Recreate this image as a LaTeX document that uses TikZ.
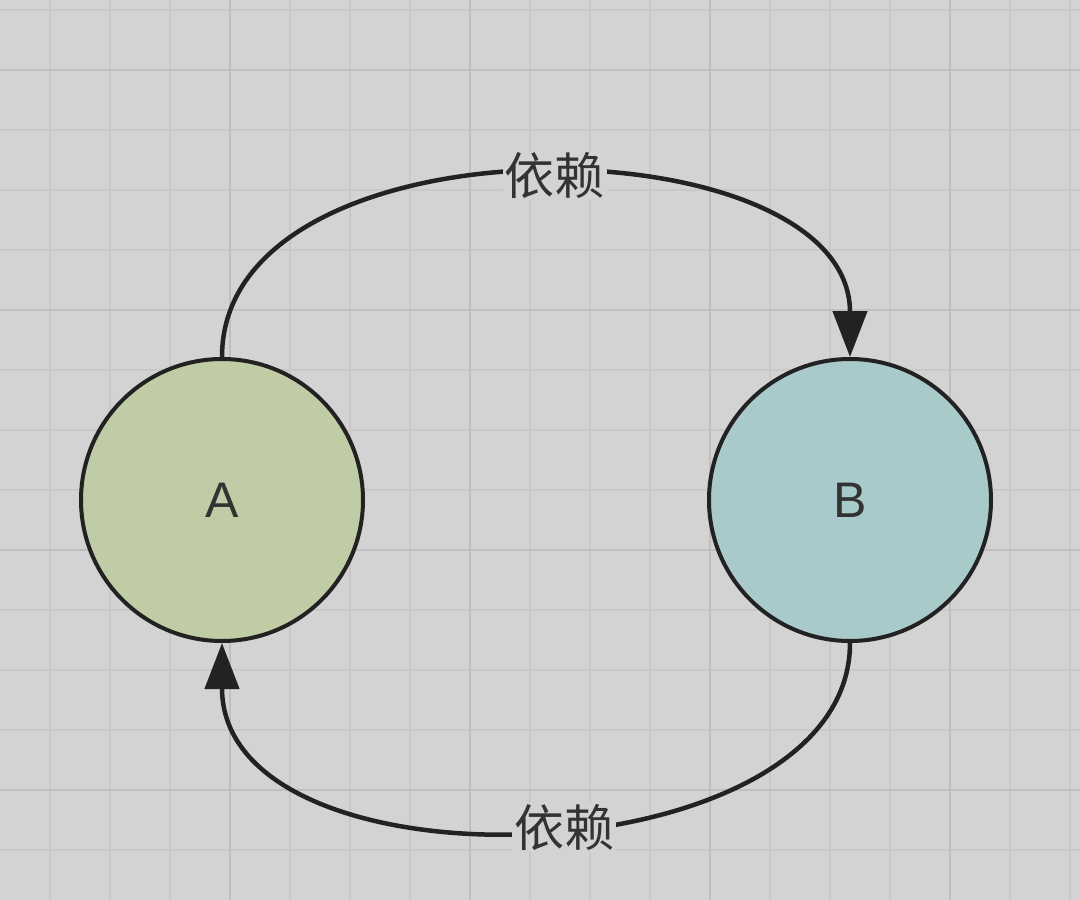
\documentclass[tikz,border=0pt]{standalone}
\usepackage{fontspec}
\setmainfont{Liberation Sans}
\newfontfamily\cjk{Noto Sans CJK SC}
\usetikzlibrary{arrows.meta}
\definecolor{bgc}{HTML}{D3D3D3}
\definecolor{gridminor}{HTML}{C8C8C8}
\definecolor{gridmajor}{HTML}{BFBFBF}
\definecolor{fillA}{HTML}{BFCCA5}
\definecolor{fillB}{HTML}{A9CACB}
\definecolor{ink}{HTML}{222222}
\definecolor{txt}{HTML}{333333}
\tikzset{
  circnode/.style={circle, draw=ink, line width=4pt, minimum size=282pt, inner sep=0pt, font=\fontsize{50}{60}\selectfont, text=txt},
  dep/.style={line width=4.5pt, draw=ink, -{Triangle[length=46pt,width=34pt]}},
  deplabel/.style={fill=bgc, inner sep=2pt, font=\cjk\fontsize{50}{60}\selectfont, text=txt},
  gminor/.style={draw=gridminor, line width=1.5pt},
  gmajor/.style={draw=gridmajor, line width=2pt}
}
\begin{document}
\begin{tikzpicture}[x=1pt,y=-1pt]
\fill[bgc] (0,0) rectangle (1080,900);
\useasboundingbox (0,0) rectangle (1080,900);
\foreach \gx in {50,110,...,1070} {\draw[gminor] (\gx,0) -- (\gx,900);}
\foreach \gy in {10,70,...,890} {\draw[gminor] (0,\gy) -- (1080,\gy);}
\foreach \gx in {230,470,710,950} {\draw[gmajor] (\gx,0) -- (\gx,900);}
\foreach \gy in {70,310,550,790} {\draw[gmajor] (0,\gy) -- (1080,\gy);}
\node[circnode, fill=fillA] (A) at (222,500) {A};
\node[circnode, fill=fillB] (B) at (850,500) {B};
\draw[dep] (A.north) .. controls (222,110) and (850,120) .. node[deplabel, pos=0.52] (l1) {依赖} (B.north);
\draw[dep] (B.south) .. controls (850,880) and (222,900) .. node[deplabel, pos=0.47] (l2) {依赖} (A.south);
\end{tikzpicture}
\end{document}
